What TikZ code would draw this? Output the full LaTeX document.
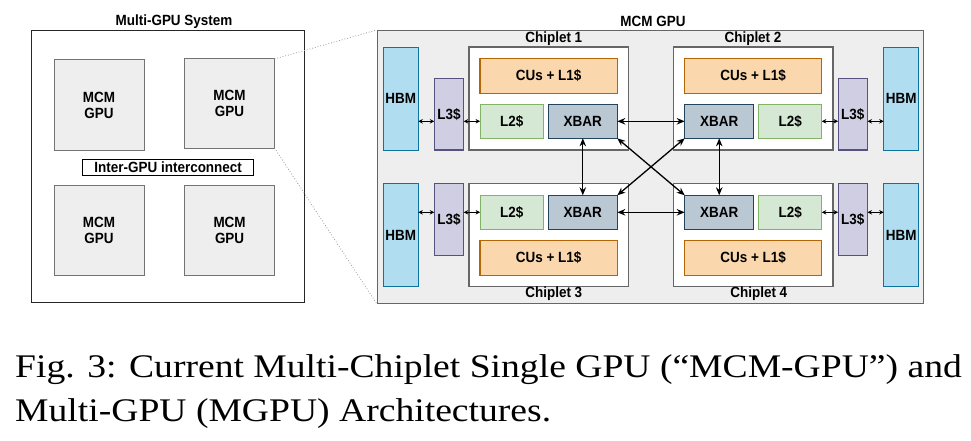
\documentclass[tikz,border=0pt]{standalone}
\usepackage{fontspec}
\usetikzlibrary{arrows.meta}
\newfontfamily\bxfont{Liberation Sans}[FakeStretch=0.91]
\newfontfamily\capfont{Liberation Serif}[FakeStretch=1.14]
\definecolor{gfill}{HTML}{EEEEEE}
\definecolor{gline}{HTML}{666666}
\definecolor{hbmF}{HTML}{B1DDF0}\definecolor{hbmD}{HTML}{10739E}
\definecolor{l3F}{HTML}{D0CEE2}\definecolor{l3D}{HTML}{56517E}
\definecolor{cuF}{HTML}{FAD7AC}\definecolor{cuD}{HTML}{B46504}
\definecolor{l2F}{HTML}{D5E8D4}\definecolor{l2D}{HTML}{82B366}
\definecolor{xbF}{HTML}{BAC8D3}\definecolor{xbD}{HTML}{23445D}
\tikzset{
  txt/.style={font=\bxfont\bfseries\fontsize{14.8}{16}\selectfont, text=black},
  box/.style={draw, rectangle, inner sep=0pt, outer sep=0pt, txt, align=center},
  gpubox/.style={box, fill=gfill, draw=gray!90!black, line width=1pt, minimum width=90, minimum height=90},
  hbmbox/.style={box, fill=hbmF, draw=hbmD, line width=1.2pt, minimum width=35, minimum height=103},
  l3box/.style={box, fill=l3F, draw=l3D, line width=1.2pt, minimum width=29.4, minimum height=71.5},
  cubox/.style={box, fill=cuF, draw=cuD, line width=1.2pt, minimum width=137.3, minimum height=34.6},
  l2box/.style={box, fill=l2F, draw=l2D, line width=1.2pt, minimum width=63.2, minimum height=34},
  xbbox/.style={box, fill=xbF, draw=xbD, line width=1.2pt, minimum width=69, minimum height=34},
  chbox/.style={draw=gline, fill=white, rectangle, line width=1.5pt, inner sep=0pt, minimum width=159.3, minimum height=103},
  bigarr/.style={line width=1.3pt, {Stealth[length=8pt,width=6.5pt]}-{Stealth[length=8pt,width=6.5pt]}},
  smallarr/.style={line width=0.9pt, {Stealth[length=4.5pt,width=4.5pt]}-{Stealth[length=4.5pt,width=4.5pt]}},
  capline/.style={anchor=base west, inner sep=0pt, font=\capfont\fontsize{33}{40}\selectfont}
}
\begin{document}
\begin{tikzpicture}[x=1pt,y=-1pt]
\useasboundingbox[fill=white] (0,0) rectangle (971,441);
% ---------- Multi-GPU system ----------
\node[txt] (systitle) at (174,21.5) {Multi-GPU System};
\node[draw=black!85, line width=1pt, rectangle, inner sep=0pt, minimum width=272.3, minimum height=272] (sys) at (167.9,166.7) {};
\node[gpubox] (g1) at (99,105) {MCM\\GPU};
\node[gpubox, minimum height=89] (g2) at (229.5,103.5) {MCM\\GPU};
\node[gpubox] (g3) at (99,230) {MCM\\GPU};
\node[gpubox] (g4) at (229.6,230) {MCM\\GPU};
\node[box, fill=white, draw=black, line width=1pt, minimum width=171, minimum height=15.7] (inter) at (168.2,167.2) {Inter-GPU interconnect};
% ---------- MCM GPU ----------
\node[txt] (mcmtitle) at (653,21.5) {MCM GPU};
\node[draw=gline, fill=gfill, line width=1.5pt, rectangle, inner sep=0pt, minimum width=546, minimum height=272.6] (mcm) at (650.7,167) {};
\draw[gray!80, line width=0.8pt, dotted] (g2.north east) -- (mcm.north west);
\draw[gray!80, line width=0.8pt, dotted] (g2.south east) -- (mcm.south west);
% chiplets
\node[chbox] (ch1) at (548.7,98.7) {};
\node[chbox] (ch2) at (753.2,98.7) {};
\node[chbox, minimum height=103.4] (ch3) at (548.7,235) {};
\node[chbox, minimum height=103.4] (ch4) at (753.2,235) {};
\node[txt] (ch1l) at (553.8,38.3) {Chiplet 1};
\node[txt] (ch2l) at (753,38.3) {Chiplet 2};
\node[txt] (ch3l) at (553.8,294) {Chiplet 3};
\node[txt] (ch4l) at (758.8,294) {Chiplet 4};
% chiplet contents
\node[cubox] (cu1) at (548.7,76) {CUs + L1\$};
\node[l2box] (l2a) at (511.7,121.3) {L2\$};
\node[xbbox] (xb1) at (582.8,121.3) {XBAR};
\node[cubox] (cu2) at (753.2,76) {CUs + L1\$};
\node[xbbox] (xb2) at (719.2,121.3) {XBAR};
\node[l2box] (l2b) at (790.2,121.3) {L2\$};
\node[l2box] (l2c) at (511.7,212.3) {L2\$};
\node[xbbox] (xb3) at (582.8,212.3) {XBAR};
\node[cubox] (cu3) at (548.7,257.8) {CUs + L1\$};
\node[xbbox] (xb4) at (719.2,212.3) {XBAR};
\node[l2box] (l2d) at (790.2,212.3) {L2\$};
\node[cubox] (cu4) at (753.2,257.8) {CUs + L1\$};
% HBM and L3
\node[hbmbox] (hbm1) at (400.8,98.7) {HBM};
\node[l3box] (l3a) at (449,114.3) {L3\$};
\node[hbmbox] (hbm2) at (901.2,98.7) {HBM};
\node[l3box] (l3b) at (852.8,114.3) {L3\$};
\node[hbmbox, minimum height=103.4] (hbm3) at (400.8,235) {HBM};
\node[l3box, minimum height=72] (l3c) at (449,219.3) {L3\$};
\node[hbmbox, minimum height=103.4] (hbm4) at (901.2,235) {HBM};
\node[l3box, minimum height=72] (l3d) at (852.8,219.3) {L3\$};
% small arrows
\draw[smallarr] (hbm1.east |- l2a.center) -- (l3a.west |- l2a.center);
\draw[smallarr] (l3a.east |- l2a.center) -- (l2a.west);
\draw[smallarr] (l2b.east) -- (l3b.west |- l2b.center);
\draw[smallarr] (l3b.east |- l2b.center) -- (hbm2.west |- l2b.center);
\draw[smallarr] (hbm3.east |- l2c.center) -- (l3c.west |- l2c.center);
\draw[smallarr] (l3c.east |- l2c.center) -- (l2c.west);
\draw[smallarr] (l2d.east) -- (l3d.west |- l2d.center);
\draw[smallarr] (l3d.east |- l2d.center) -- (hbm4.west |- l2d.center);
% XBAR arrows
\draw[bigarr] (xb1.east) -- (xb2.west);
\draw[bigarr] (xb3.east) -- (xb4.west);
\draw[bigarr] (xb1.south) -- (xb3.north);
\draw[bigarr] (xb2.south) -- (xb4.north);
\draw[bigarr] (xb1.south east) -- (xb4.north west);
\draw[bigarr] (xb2.south west) -- (xb3.north east);
% caption
\node[capline] (cap1) at (15,377) {Fig. 3: Current Multi-Chiplet Single GPU (“MCM-GPU”) and};
\node[capline] (cap2) at (15,421) {Multi-GPU (MGPU) Architectures.};
\end{tikzpicture}
\end{document}
